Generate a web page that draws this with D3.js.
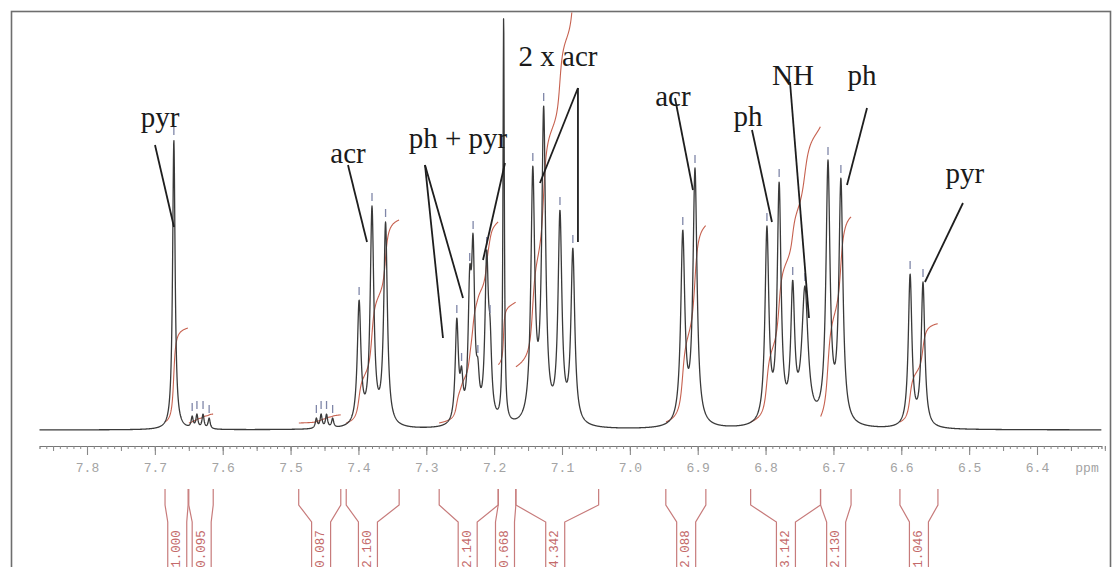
<!DOCTYPE html>
<html>
<head>
<meta charset="utf-8">
<script src="https://cdn.jsdelivr.net/npm/d3@7"></script>
<style>
  html, body { margin: 0; padding: 0; background: #ffffff; }
  svg { display: block; }
</style>
</head>
<body>
<svg id="chart" width="1114" height="567"></svg>
<script>
// ---- 1H NMR peak list -------------------------------------------------
// chemical shift (ppm)
const peakShifts = [
  7.672,
  7.645, 7.638, 7.629, 7.620,
  7.462, 7.455, 7.447, 7.438,
  7.399, 7.380, 7.360,
  7.255, 7.248, 7.236, 7.231, 7.224, 7.211, 7.206,
  7.186,
  7.143, 7.127, 7.103, 7.084,
  6.922, 6.904,
  6.798, 6.780,
  6.760, 6.742,
  6.708, 6.689,
  6.587, 6.568
];
// peak height (relative intensity)
const peakHeights = [
  72.5,
  3.5, 4, 4, 3,
  3, 4, 4, 3,
  32.5, 56, 52,
  28, 16, 41, 49, 18, 45, 28,
  103.5,
  66, 81, 55, 45.5,
  50, 65.5,
  51, 62,
  37.5, 36,
  67.5, 63,
  39, 37
];
// half width at half height (ppm)
const peakWidths = [
  0.0022,
  0.0018, 0.0018, 0.0018, 0.0018,
  0.0018, 0.0018, 0.0018, 0.0018,
  0.0032, 0.0032, 0.0032,
  0.0028, 0.0025, 0.0028, 0.0028, 0.0025, 0.0030, 0.0028,
  0.0012,
  0.0034, 0.0034, 0.0034, 0.0034,
  0.0036, 0.0036,
  0.0034, 0.0034,
  0.0034, 0.0055,
  0.0036, 0.0036,
  0.0032, 0.0032
];

// ---- integration --------------------------------------------------------
const integralStart = [7.685, 7.650, 7.488, 7.418, 7.281, 7.194, 7.168, 6.947, 6.822, 6.719, 6.602];
const integralEnd   = [7.651, 7.614, 7.426, 7.340, 7.194, 7.168, 7.046, 6.888, 6.719, 6.674, 6.546];
const integralValues = [1.000, 0.095, 0.087, 2.160, 2.140, 0.668, 4.342, 2.088, 3.142, 2.130, 1.046];
const integralLabelShift = [7.667, 7.631, 7.455, 7.386, 7.239, 7.184, 7.110, 6.917, 6.770, 6.696, 6.574];

// ---- axis ---------------------------------------------------------------
const tickValues = [7.8, 7.7, 7.6, 7.5, 7.4, 7.3, 7.2, 7.1, 7.0, 6.9, 6.8, 6.7, 6.6, 6.5, 6.4];
const tickLabels = ["7.8", "7.7", "7.6", "7.5", "7.4", "7.3", "7.2", "7.1", "7.0", "6.9", "6.8", "6.7", "6.6", "6.5", "6.4"];

// ---- assignments --------------------------------------------------------
const assignLabels = ["pyr", "acr", "ph + pyr", "2 x acr", "acr", "ph", "NH", "ph", "pyr"];
const assignShift  = [7.6924, 7.4154, 7.2533, 7.1059, 6.9365, 6.8259, 6.7596, 6.6579, 6.5062];
const assignHeight = [75.75, 66.75, 70.5, 91, 81, 76, 86.25, 86.25, 61.75];
// leader lines: from (shift, height) to (shift, height)
const leaderFromShift  = [7.6998, 7.4154, 7.3019, 7.3019, 7.1840, 7.0765, 7.0765, 6.9335, 6.8200, 6.7640, 6.6505, 6.5091];
const leaderFromHeight = [71.25, 66.25, 66.25, 66.25, 66.75, 85.5, 85.5, 83, 75, 87, 80.5, 56.75];
const leaderToShift    = [7.6718, 7.3874, 7.2754, 7.2459, 7.2164, 7.1325, 7.0765, 6.9070, 6.7906, 6.7360, 6.6800, 6.5651];
const leaderToHeight   = [50.75, 47, 23, 33, 42.5, 61.75, 47, 60, 52, 28, 61.25, 37];

// ---- layout ------------------------------------------------------------
const svg = d3.select("#chart");
const x = d3.scaleLinear().domain([7.8, 6.4]).range([87, 1037]);
const y = d3.scaleLinear().domain([0, 100]).range([430, 30]);
const ppmLeft = 7.870, ppmRight = 6.305;
const integralPxPerUnit = 94;
const integralLift = [8, 7, 7, 7, 7, 65, 63, 8, 8, 13, 8];

const frame = { x: 11.5, y: 11.5, w: 1099, h: 600 };

svg.append("defs").append("clipPath").attr("id", "plotClip")
  .append("rect").attr("x", frame.x + 1).attr("y", frame.y + 1)
  .attr("width", frame.w - 2).attr("height", frame.h);

svg.append("rect")
  .attr("x", frame.x).attr("y", frame.y)
  .attr("width", frame.w).attr("height", frame.h)
  .attr("fill", "#ffffff").attr("stroke", "#6e6e6e").attr("stroke-width", 1.6);

// ---- line shape model --------------------------------------------------
const lor = (p, c, w) => 1 / (1 + ((p - c) / w) * ((p - c) / w));
// amplitudes so that the summed trace reaches each listed height at its line
let amps = peakHeights.slice();
for (let it = 0; it < 60; it++) {
  amps = peakHeights.map((h, i) => {
    let s = 0;
    peakShifts.forEach((c, j) => { if (j !== i) s += amps[j] * lor(peakShifts[i], c, peakWidths[j]); });
    return Math.max(0.3, h - s);
  });
}
const intensity = p => {
  let s = 0;
  for (let j = 0; j < peakShifts.length; j++) s += amps[j] * lor(p, peakShifts[j], peakWidths[j]);
  return s;
};

const grid = d3.range(ppmLeft, ppmRight, -0.00035);
const spectrum = grid.map(p => ({ p, v: intensity(p) }));

const plot = svg.append("g").attr("clip-path", "url(#plotClip)");

// ---- integral curves ---------------------------------------------------
const integralLine = d3.line().x(d => x(d.p)).y(d => d.y);
integralValues.forEach((val, k) => {
  const pts = grid.filter(p => p <= integralStart[k] && p >= integralEnd[k]);
  let cum = 0;
  const raw = pts.map(p => { cum += intensity(p); return cum; });
  const total = raw[raw.length - 1] || 1;
  const base = y(0) - integralLift[k];
  const data = pts.map((p, i) => ({ p, y: base - (raw[i] / total) * val * integralPxPerUnit }));
  plot.append("path")
    .attr("d", integralLine(data))
    .attr("fill", "none")
    .attr("stroke", "#c0503c")
    .attr("stroke-width", 1.1)
    .attr("opacity", 0.9);
});

// ---- spectrum trace ----------------------------------------------------
plot.append("path")
  .datum(spectrum)
  .attr("d", d3.line().x(d => x(d.p)).y(d => y(d.v)))
  .attr("fill", "none")
  .attr("stroke", "#3a3a3a")
  .attr("stroke-width", 1.3)
  .attr("stroke-linejoin", "round");

// peak-pick markers above the stronger lines
peakShifts.forEach((c, i) => {
  if (peakHeights[i] > 100) return;
  const top = y(intensity(c));
  plot.append("line")
    .attr("x1", x(c)).attr("x2", x(c))
    .attr("y1", top - 13).attr("y2", top - 5)
    .attr("stroke", "#7f86a8").attr("stroke-width", 1.3);
});

// ---- axis --------------------------------------------------------------
const axisY = 446;
const xAxisScale = x.copy().domain([ppmLeft, ppmRight]).range([x(ppmLeft), x(ppmRight)]);
const minorTicks = d3.range(7.86, 6.30, -0.01).map(v => +v.toFixed(2));
svg.append("g").attr("transform", `translate(0,${axisY})`)
  .call(d3.axisBottom(xAxisScale).tickValues(minorTicks).tickSize(3).tickFormat(""))
  .call(g => g.select(".domain").attr("stroke", "#777").attr("stroke-width", 1.2))
  .call(g => g.selectAll(".tick line").attr("stroke", "#888").attr("stroke-width", 1));
const midTicks = minorTicks.filter(v => Math.abs(Math.round(v * 20) - v * 20) < 1e-6);
svg.append("g").attr("transform", `translate(0,${axisY})`)
  .call(d3.axisBottom(xAxisScale).tickValues(midTicks).tickSize(5).tickFormat(""))
  .call(g => g.select(".domain").remove())
  .call(g => g.selectAll(".tick line").attr("stroke", "#888"));
svg.append("g").attr("transform", `translate(0,${axisY})`)
  .call(d3.axisBottom(xAxisScale).tickValues(tickValues).tickSize(9).tickPadding(8)
        .tickFormat((d, i) => tickLabels[i]))
  .call(g => g.select(".domain").remove())
  .call(g => g.selectAll(".tick line").attr("stroke", "#888").attr("stroke-width", 1.1))
  .call(g => g.selectAll(".tick text")
    .attr("font-family", "'Liberation Mono', 'DejaVu Sans Mono', monospace")
    .attr("font-size", 13).attr("fill", "#a3a3a3"));
svg.append("text")
  .attr("x", x(6.4) + 50).attr("y", axisY + 17)
  .attr("dy", "0.71em")
  .attr("text-anchor", "middle")
  .attr("font-family", "'Liberation Mono', 'DejaVu Sans Mono', monospace")
  .attr("font-size", 13).attr("fill", "#a3a3a3")
  .text("ppm");

// ---- integral brackets -------------------------------------------------
const brTop = 489, brBend1 = 505, brBend2 = 522, brBottom = 575, brHalf = 9.5;
const bracketColor = "#c77b7b";
integralValues.forEach((val, k) => {
  const xs = x(integralStart[k]), xe = x(integralEnd[k]), xc = x(integralLabelShift[k]);
  const left = [[xs, brTop], [xs, brBend1], [xc - brHalf, brBend2], [xc - brHalf, brBottom]];
  const right = [[xe, brTop], [xe, brBend1], [xc + brHalf, brBend2], [xc + brHalf, brBottom]];
  [left, right].forEach(pts => svg.append("path")
    .attr("d", d3.line()(pts))
    .attr("fill", "none").attr("stroke", bracketColor).attr("stroke-width", 1.2));
  svg.append("text")
    .attr("transform", `translate(${xc},549) rotate(-90)`)
    .attr("text-anchor", "middle")
    .attr("dominant-baseline", "central")
    .attr("font-family", "'Liberation Mono', 'DejaVu Sans Mono', monospace")
    .attr("font-size", 12.5)
    .attr("fill", "#c46a6a")
    .text(val.toFixed(3));
});

// ---- assignment labels and leader lines -------------------------------
const leaderOwner = [0, 1, 2, 2, 2, 3, 3, 4, 5, 6, 7, 8];
leaderFromShift.forEach((s, i) => {
  svg.append("line")
    .attr("x1", x(s)).attr("y1", y(leaderFromHeight[i]))
    .attr("x2", x(leaderToShift[i])).attr("y2", y(leaderToHeight[i]))
    .attr("stroke", "#1e1e1e").attr("stroke-width", 1.8)
    .attr("data-label", assignLabels[leaderOwner[i]]);
});
assignLabels.forEach((t, i) => {
  svg.append("text")
    .attr("x", x(assignShift[i])).attr("y", y(assignHeight[i]))
    .attr("text-anchor", "middle")
    .attr("font-family", "'Liberation Serif', 'Times New Roman', serif")
    .attr("font-size", 29)
    .attr("fill", "#1a1a1a")
    .text(t);
});
</script>
</body>
</html>
